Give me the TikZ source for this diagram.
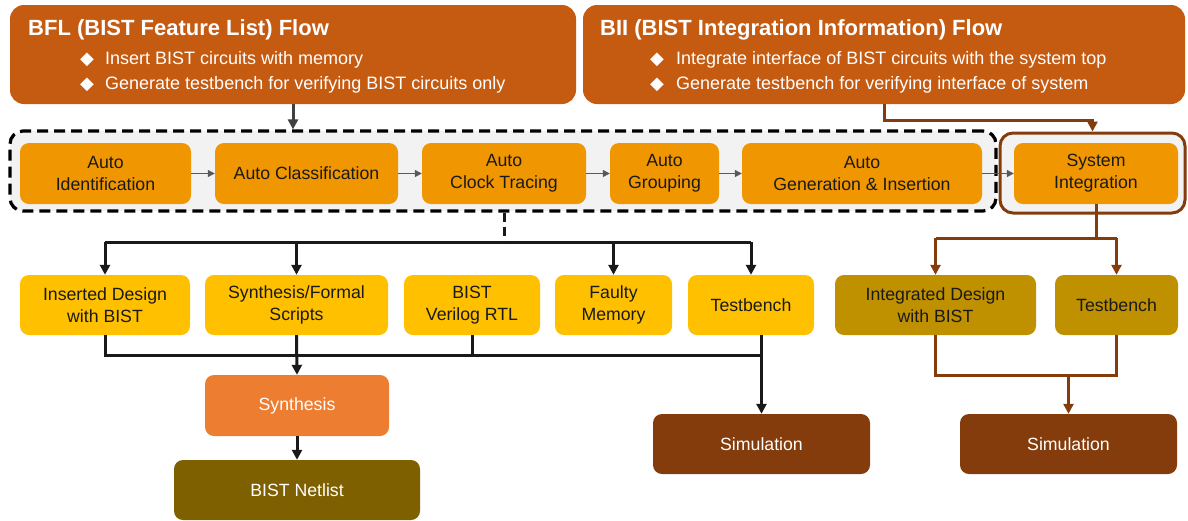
\documentclass[tikz,border=0pt]{standalone}
\usepackage{fontspec}
\setmainfont{Liberation Sans}
\newfontfamily\symfont{DejaVu Sans}
\usetikzlibrary{arrows.meta,calc}
\definecolor{cHdr}{HTML}{C55A11}
\definecolor{cAuto}{HTML}{F09600}
\definecolor{cYel}{HTML}{FFC000}
\definecolor{cGold}{HTML}{BF9000}
\definecolor{cSyn}{HTML}{ED7D31}
\definecolor{cNet}{HTML}{7F6000}
\definecolor{cSim}{HTML}{843C0C}
\definecolor{cBg}{HTML}{F2F2F2}
\definecolor{cTxt}{HTML}{1A1A1A}
\begin{document}
\begin{tikzpicture}[x=1pt,y=-1pt,
  hbox/.style={fill=cHdr, rounded corners=14pt, inner sep=0pt},
  ttl/.style={text=white, font=\fontsize{22}{24}\selectfont\bfseries, inner sep=0pt, anchor=base west},
  bul/.style={text=white, font=\fontsize{18}{21}\selectfont, inner sep=0pt, anchor=base west},
  box/.style={rounded corners=9pt, inner sep=0pt, align=center, font=\fontsize{17.7}{22}\selectfont, text=cTxt},
  autob/.style={box, fill=cAuto, minimum height=61},
  ybox/.style={box, fill=cYel, minimum height=60},
  gbox/.style={box, fill=cGold, minimum height=60},
  wbox/.style={box, text=white, minimum height=61},
  garr/.style={draw=black!65, line width=1.2pt, -{Triangle[length=7pt,width=7pt]}},
  blk/.style={draw=black!90, line width=3pt},
  blkarr/.style={blk, -{Triangle[length=10pt,width=10pt]}},
  brn/.style={draw=cSim, line width=3pt},
  brnarr/.style={brn, -{Triangle[length=10pt,width=10pt]}},
]
\useasboundingbox (0,0) rectangle (1188,520);

% headers
\node[hbox, minimum width=566, minimum height=99] (hl) at (293,54.5) {};
\node[hbox, minimum width=602, minimum height=99] (hr) at (884,54.5) {};
\node[ttl] (hlt) at (28,35) {BFL (BIST Feature List) Flow};
\node[bul] (hld1) at (80,64) {\symfont ◆};
\node[bul] (hlb1) at (105,64) {Insert BIST circuits with memory};
\node[bul] (hld2) at (80,89) {\symfont ◆};
\node[bul] (hlb2) at (105,89) {Generate testbench for verifying BIST circuits only};
\node[ttl] (hrt) at (600,35) {BII (BIST Integration Information) Flow};
\node[bul] (hrd1) at (650,64) {\symfont ◆};
\node[bul] (hrb1) at (676,64) {Integrate interface of BIST circuits with the system top};
\node[bul] (hrd2) at (650,89) {\symfont ◆};
\node[bul] (hrb2) at (676,89) {Generate testbench for verifying interface of system};

% dashed container and system container
\node[draw=black, fill=cBg, line width=3.2pt, dash pattern=on 11pt off 6pt, rounded corners=13pt,
      minimum width=986, minimum height=80, inner sep=0pt] (dbox) at (503,171) {};
\node[draw=cSim, fill=cBg, line width=3pt, rounded corners=13pt,
      minimum width=185, minimum height=80, inner sep=0pt] (sysout) at (1092.5,173) {};

% auto boxes
\node[autob, minimum width=171] (ai) at (105.5,173.5) {Auto\\Identification};
\node[autob, minimum width=183] (ac) at (306.5,173.5) {Auto Classification};
\node[autob, minimum width=164] (act) at (504,173.5) {Auto\\Clock Tracing};
\node[autob, minimum width=109] (ag) at (664.5,173.5) {Auto\\Grouping};
\node[autob, minimum width=240] (agi) at (862,173.5) {Auto\\Generation \& Insertion};
\node[autob, minimum width=164] (si) at (1096,173.5) {System\\Integration};

\draw[garr] (ai) -- (ac);
\draw[garr] (ac) -- (act);
\draw[garr] (act) -- (ag);
\draw[garr] (ag) -- (agi);
\draw[garr] (agi) -- (si);

% header connectors
\draw[draw=black!75, line width=3pt, -{Triangle[length=10pt,width=10pt]}] (hl.south) -- (hl.south |- dbox.north);
\draw[brnarr] (hr.south) -- ++(0,16) -| (sysout.north);

% output boxes
\node[ybox, minimum width=170] (id) at (105,305) {Inserted Design\\with BIST};
\node[ybox, minimum width=183] (sf) at (296.5,305) {Synthesis/Formal\\Scripts};
\node[ybox, minimum width=136] (bv) at (472,305) {BIST\\Verilog RTL};
\node[ybox, minimum width=117] (fm) at (613.5,305) {Faulty\\Memory};
\node[ybox, minimum width=126] (tb) at (751,305) {Testbench};
\node[gbox, minimum width=201] (idb) at (935.5,305) {Integrated Design\\with BIST};
\node[gbox, minimum width=123] (tb2) at (1116.5,305) {Testbench};

\node[wbox, fill=cSyn, minimum width=184] (syn) at (297,405.5) {Synthesis};
\node[wbox, fill=cNet, minimum width=246, minimum height=60] (net) at (297,490) {BIST Netlist};
\node[wbox, fill=cSim, minimum width=217, minimum height=60] (siml) at (761.5,444) {Simulation};
\node[wbox, fill=cSim, minimum width=217, minimum height=60] (simr) at (1068.5,444) {Simulation};

% BFL distribution
\coordinate (j1) at (504,242);
\draw[blk, dash pattern=on 9pt off 5pt] (act.south |- dbox.south) -- (j1);
\draw[blk] (id.north |- j1) -- (tb.north |- j1);
\draw[blkarr] (id.north |- j1) -- (id.north);
\draw[blkarr] (sf.north |- j1) -- (sf.north);
\draw[blkarr] (fm.north |- j1) -- (fm.north);
\draw[blkarr] (tb.north |- j1) -- (tb.north);

% BII distribution
\coordinate (j2) at (1096,238);
\draw[brn] (si.south) -- (j2);
\draw[brn] (idb.north |- j2) -- (tb2.north |- j2);
\draw[brnarr] (idb.north |- j2) -- (idb.north);
\draw[brnarr] (tb2.north |- j2) -- (tb2.north);

% BFL collection
\coordinate (j3) at (0,355);
\draw[blk] (id.south) -- (id.south |- j3) -- (siml.north |- j3);
\draw[blk] (bv.south) -- (bv.south |- j3);
\draw[blk] (siml.north |- tb.south) -- (siml.north |- j3);
\draw[blkarr] (sf.south) -- (syn.north);
\draw[blkarr] (siml.north |- j3) -- (siml.north);
\draw[blkarr] (syn.south) -- (net.north);

% BII collection
\coordinate (j4) at (0,375);
\draw[brn] (idb.south) -- (idb.south |- j4) -- (tb2.south |- j4) -- (tb2.south);
\draw[brnarr] (simr.north |- j4) -- (simr.north);
\end{tikzpicture}
\end{document}
